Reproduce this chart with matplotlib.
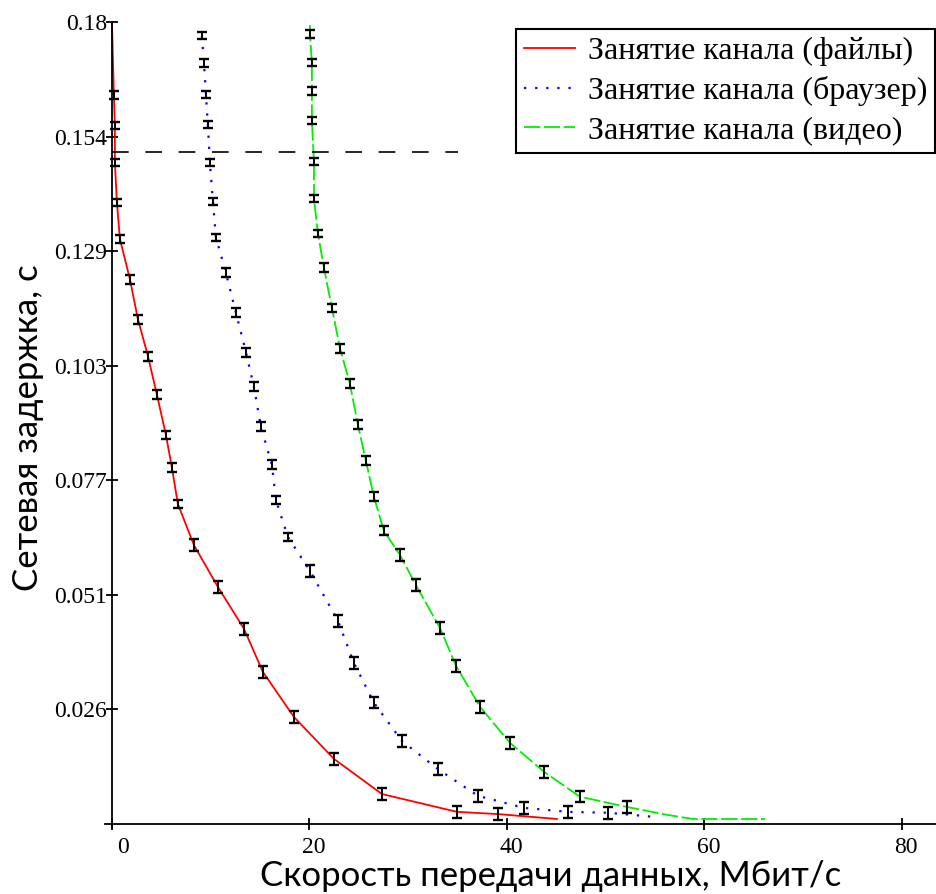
import numpy as np
from matplotlib import pyplot as plt
from matplotlib import transforms

# data (Mbit/s, s)
files_x = [0.0, 0.20, 0.30, 0.30, 0.51, 0.81, 1.82, 2.63, 3.65, 4.56, 5.47, 6.08,
           6.68, 8.30, 10.73, 13.37, 15.29, 18.43, 22.48, 27.34, 34.94, 39.09, 45.06]
files_y = [0.1800, 0.1636, 0.1567, 0.1484, 0.1394, 0.1313, 0.1223, 0.1133, 0.1050,
           0.0963, 0.0873, 0.0799, 0.0718, 0.0626, 0.0532, 0.0438, 0.0341, 0.0240,
           0.0146, 0.0067, 0.0027, 0.0022, 0.0011]
files_err = [0.0008] * 5 + [0.0010] * 7 + [0.0013] * 9
files_bars = slice(1, 22)

browser_x = [9.11, 9.32, 9.52, 9.72, 9.92, 10.23, 10.53, 11.54, 12.56, 13.57, 14.38,
             15.09, 16.20, 16.61, 17.82, 20.05, 22.89, 24.51, 26.53, 29.37, 33.01,
             37.06, 41.72, 46.18, 50.23, 54.78]
browser_y = [0.1769, 0.1708, 0.1638, 0.1569, 0.1484, 0.1398, 0.1317, 0.1237, 0.1147,
             0.1059, 0.0981, 0.0891, 0.0806, 0.0727, 0.0644, 0.0568, 0.0456, 0.0361,
             0.0272, 0.0186, 0.0123, 0.0063, 0.0036, 0.0027, 0.0025, 0.0016]
browser_err = [0.0008] * 7 + [0.0010] * 8 + [0.0013] * 10
browser_bars = slice(0, 25)

video_x = [20.05, 20.05, 20.25, 20.25, 20.25, 20.46, 20.46, 20.86, 21.47, 22.28, 23.09,
           24.10, 24.91, 25.72, 26.53, 27.54, 29.16, 30.78, 33.22, 34.84, 37.27, 40.30,
           43.75, 47.39, 52.15, 56.30, 58.84, 66.13]
video_y = [0.1793, 0.1773, 0.1710, 0.1645, 0.1578, 0.1486, 0.1403, 0.1326, 0.1248,
           0.1158, 0.1068, 0.0988, 0.0896, 0.0815, 0.0734, 0.0658, 0.0604, 0.0536,
           0.0440, 0.0355, 0.0263, 0.0182, 0.0117, 0.0061, 0.0038, 0.0020, 0.0011, 0.0011]
video_err = [0.0008] * 7 + [0.0010] * 8 + [0.0013] * 9
video_bars = slice(1, 25)

limit_y = 0.1508
limit_x_end = 35.0

labels = ["Занятие канала (файлы)", "Занятие канала (браузер)", "Занятие канала (видео)"]
y_ticks = [0.18 * k / 7 for k in range(1, 8)]
x_ticks = [0, 20, 40, 60, 80]


def fmt(v):
    s = "%.3f" % v
    return s.rstrip("0")


def main():
    fig = plt.figure(figsize=(9.36, 8.94), dpi=100)
    ax = fig.add_axes([105 / 936, 67 / 894, 831 / 936, 805 / 894])

    ax.plot(files_x, files_y, color="#ff0000", lw=1.3, label=labels[0])
    ax.plot(browser_x, browser_y, color="#0000ff", lw=1.6, ls=(0, (1, 4)), label=labels[1])
    ax.plot(video_x, video_y, color="#00ee00", lw=1.3, ls=(0, (9, 2)), label=labels[2])

    for xs, ys, err, sl in [(files_x, files_y, files_err, files_bars),
                            (browser_x, browser_y, browser_err, browser_bars),
                            (video_x, video_y, video_err, video_bars)]:
        ax.errorbar(xs[sl], ys[sl], yerr=err, fmt="none", ecolor="black",
                    elinewidth=1.4, capsize=3.4, capthick=1.7, zorder=3)

    ax.hlines(limit_y, 0, limit_x_end, colors="black", lw=1.2, linestyles=(0, (10, 10)))

    ax.set_xlim(-0.7, 83.45)
    ax.set_ylim(-0.0007, 0.18)
    ax.spines["left"].set_position(("data", 0))
    ax.spines["bottom"].set_position(("data", 0))
    ax.spines["top"].set_visible(False)
    ax.spines["right"].set_visible(False)
    for s in ("left", "bottom"):
        ax.spines[s].set_linewidth(1.3)

    ax.set_xticks(x_ticks)
    ax.set_xticklabels([str(v) for v in x_ticks], family="Liberation Serif", fontsize=17)
    ax.set_yticks(y_ticks)
    ax.set_yticklabels([fmt(v) for v in y_ticks], family="Liberation Serif", fontsize=17)
    ax.tick_params(axis="both", direction="inout", length=9, width=1.3)
    ax.tick_params(axis="x", pad=5)
    ax.tick_params(axis="y", pad=-1)

    # Mathcad puts the x labels a little to the right of their ticks
    for i, t in enumerate(ax.get_xticklabels()):
        dx = 11 if i == 0 else 4
        t.set_transform(t.get_transform() + transforms.ScaledTranslation(dx / 100, 0, fig.dpi_scale_trans))

    fig.text(551 / 936, 1 - 876 / 894, "Скорость передачи данных, Мбит/с",
             family="Lato", fontsize=25, ha="center", va="center")
    fig.text(28 / 936, 1 - 428 / 894, "Сетевая задержка, с",
             family="Lato", fontsize=25, ha="center", va="center", rotation=90)

    leg = ax.legend(loc="upper right", bbox_to_anchor=(935 / 936, 1 - 29 / 894),
                    bbox_transform=fig.transFigure, prop={"family": "Liberation Serif", "size": 23},
                    fancybox=False, framealpha=1, edgecolor="black", borderaxespad=0,
                    handlelength=1.6, handletextpad=0.4, labelspacing=0.3, borderpad=0.25)
    leg.get_frame().set_linewidth(1.5)

    fig.savefig("out.png", dpi=100)


if __name__ == "__main__":
    main()
